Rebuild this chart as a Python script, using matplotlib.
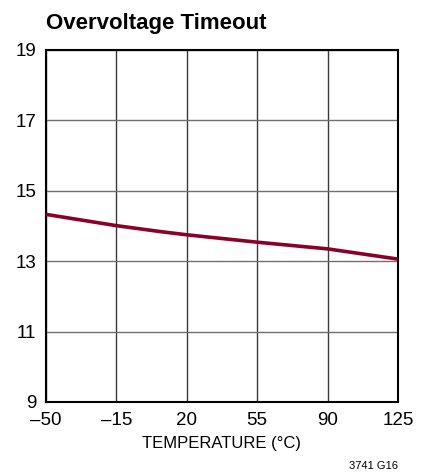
import numpy as np
import matplotlib.pyplot as plt

temp = [-50, -15, 7, 20, 55, 90, 125]
timeout = [14.33, 14.01, 13.84, 13.75, 13.54, 13.35, 13.06]
xticks = [-50, -15, 20, 55, 90, 125]
yticks = [9, 11, 13, 15, 17, 19]

plt.rcParams['font.family'] = ['Liberation Sans', 'DejaVu Sans']

fig = plt.figure(figsize=(4.27, 4.75), dpi=100)
ax = fig.add_axes([46 / 427, 73 / 475, 352 / 427, 352 / 475])

ax.plot(temp, timeout, color='#8b0027', lw=2.6, solid_capstyle='butt', zorder=3)

ax.set_xlim(-50, 125)
ax.set_ylim(9, 19)
ax.set_xticks(xticks)
ax.set_yticks(yticks)
ax.set_xticklabels(['\u201350', '\u201315', '20', '55', '90', '125'])
ax.tick_params(length=0, labelsize=13.5, pad=7)
ax.xaxis.grid(True, color='#3a3a3a', lw=1)
ax.yaxis.grid(True, color='#707070', lw=1)
for s in ax.spines.values():
    s.set_linewidth(1.5)
    s.set_color('black')

ax.set_xlabel('TEMPERATURE (\u00b0C)', fontsize=12, labelpad=5)
fig.text(46 / 427, 1 - 29 / 475, 'Overvoltage Timeout', fontsize=16,
         fontweight='bold', va='baseline', ha='left')
fig.text(398 / 427, 1 - 469 / 475, '3741 G16', fontsize=8, ha='right',
         va='baseline')

fig.savefig('out.png', dpi=100)
